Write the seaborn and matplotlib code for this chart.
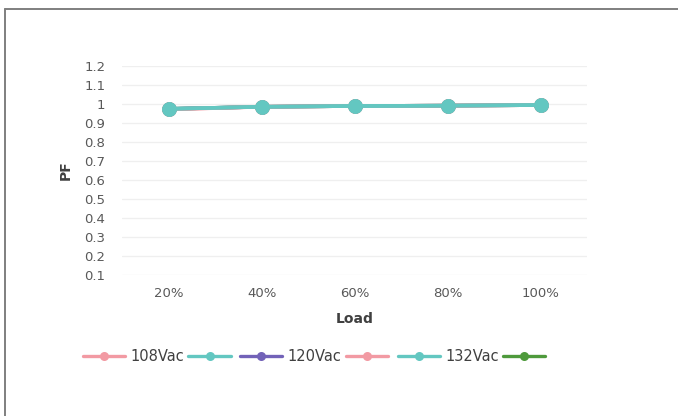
import matplotlib
matplotlib.use("Agg")
import matplotlib.pyplot as plt
from matplotlib.lines import Line2D
import seaborn as sns
import pandas as pd

# Load steps and measured power factor for each supply voltage
loads = ["20%", "40%", "60%", "80%", "100%"]
pf_108_a = [0.972, 0.986, 0.990, 0.992, 0.995]
pf_108_b = [0.975, 0.986, 0.990, 0.992, 0.995]
pf_120_a = [0.975, 0.986, 0.990, 0.992, 0.995]
pf_120_b = [0.973, 0.986, 0.990, 0.992, 0.995]
pf_132_a = [0.975, 0.986, 0.990, 0.992, 0.995]
pf_132_b = [0.975, 0.986, 0.990, 0.992, 0.995]

series_labels = ["108Vac", "", "120Vac", "", "132Vac", ""]
series_values = [pf_108_a, pf_108_b, pf_120_a, pf_120_b, pf_132_a, pf_132_b]
series_colors = ["#F29AA3", "#63C7C1", "#7262B8", "#F29AA3", "#63C7C1", "#4E9A3C"]
draw_order = [5, 2, 0, 3, 1, 4]

y_ticks = [0.1, 0.2, 0.3, 0.4, 0.5, 0.6, 0.7, 0.8, 0.9, 1.0, 1.1, 1.2]
y_tick_labels = ["0.1", "0.2", "0.3", "0.4", "0.5", "0.6", "0.7", "0.8", "0.9", "1", "1.1", "1.2"]

sns.set_theme(style="white")
plt.rcParams["font.family"] = ["DejaVu Sans"]

fig = plt.figure(figsize=(6.78, 4.16), dpi=100)
ax = fig.add_axes([0.180, 0.339, 0.686, 0.502])

for z, i in enumerate(draw_order):
    df = pd.DataFrame({"Load": loads, "PF": series_values[i]})
    sns.lineplot(data=df, x="Load", y="PF", ax=ax, color=series_colors[i],
                 marker="o", markersize=10.5, markeredgewidth=0,
                 linewidth=2.6, zorder=3 + z, sort=False)

ax.set_xlim(-0.5, len(loads) - 0.5)
ax.set_ylim(0.1, 1.2)
ax.set_yticks(y_ticks)
ax.set_yticklabels(y_tick_labels)
ax.grid(axis="y", color="#EFEFEF", linewidth=0.9)
ax.grid(axis="x", visible=False)
for s in ax.spines.values():
    s.set_visible(False)
ax.tick_params(axis="both", length=0, labelsize=9.5, labelcolor="#595959")
ax.tick_params(axis="y", pad=12)
ax.tick_params(axis="x", pad=9)
ax.set_xlabel("Load", fontsize=10, fontweight="bold", color="#404040", labelpad=8)
ax.set_ylabel("PF", fontsize=10, fontweight="bold", color="#404040", labelpad=8)

handles = [Line2D([0], [0], color=c, marker="o", markersize=6.5, linewidth=2.4,
                  markeredgewidth=0) for c in series_colors]
fig.legend(handles, series_labels, loc="center", bbox_to_anchor=(0.467, 0.142),
           ncol=6, frameon=False, fontsize=10.5, handlelength=2.9,
           columnspacing=0.3, handletextpad=0.35, labelcolor="#404040")

# Outer frame edges along the top and left
fig.add_artist(Line2D([0.007, 1.0], [0.979, 0.979], color="#7F7F7F", linewidth=1.4,
                      transform=fig.transFigure))
fig.add_artist(Line2D([0.007, 0.007], [0.0, 0.979], color="#7F7F7F", linewidth=1.4,
                      transform=fig.transFigure))

fig.savefig("out.png", dpi=100)
